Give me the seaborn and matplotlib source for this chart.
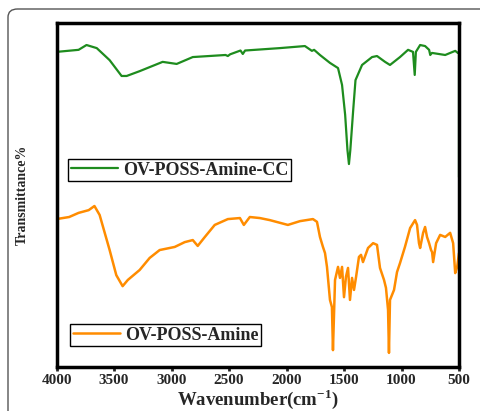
import numpy as np
import pandas as pd
import seaborn as sns
import matplotlib.pyplot as plt
from matplotlib.patches import FancyBboxPatch

sns.set_style("white")
plt.rcParams["font.family"] = ["Liberation Serif", "DejaVu Serif"]
plt.rcParams["font.weight"] = "bold"
plt.rcParams["mathtext.fontset"] = "custom"
plt.rcParams["mathtext.rm"] = "Liberation Serif:bold"
plt.rcParams["mathtext.bf"] = "Liberation Serif:bold"

# FTIR spectra (wavenumber in cm-1, transmittance in arbitrary %)
cc_wn = [4000, 4000, 3808, 3739, 3650, 3538, 3434, 3390, 3277, 3077, 2955, 2815,
         2530, 2510, 2490, 2400, 2380, 2360, 2058, 1840, 1779, 1760, 1709, 1622,
         1552, 1517, 1490, 1470, 1457, 1445, 1420, 1400, 1343, 1256, 1213, 1143,
         1100, 1013, 943, 900, 885, 875, 838, 795, 760, 750, 735, 620, 533, 510,
         500, 500]
cc_t = [55.2, 91.6, 92.2, 93.6, 92.7, 89.2, 84.6, 84.6, 86.0, 88.7, 88.1, 90.1,
        90.7, 90.4, 90.9, 92.0, 91.0, 92.0, 92.7, 93.3, 91.9, 92.2, 90.7, 88.4,
        86.9, 82.0, 73.3, 63.1, 59.0, 63.1, 74.7, 83.4, 87.8, 90.1, 90.4, 88.7,
        87.8, 90.1, 92.2, 91.6, 84.9, 91.6, 93.6, 93.3, 92.2, 90.7, 91.3, 90.7,
        91.9, 91.3, 91.3, 55.2]

am_wn = [4000, 4000, 3890, 3808, 3720, 3670, 3625, 3538, 3480, 3425, 3380, 3277,
         3190, 3103, 2972, 2885, 2815, 2772, 2710, 2624, 2510, 2405, 2371, 2319,
         2232, 2145, 1988, 1883, 1770, 1735, 1709, 1683, 1665, 1648, 1622, 1605,
         1596, 1578, 1552, 1535, 1517, 1500, 1483, 1465, 1448, 1430, 1413, 1395,
         1370, 1352, 1335, 1291, 1247, 1213, 1187, 1152, 1135, 1117, 1109, 1100,
         1065, 1039, 1013, 970, 925, 882, 865, 848, 838, 812, 795, 778, 760, 743,
         734, 725, 699, 664, 620, 577, 551, 533, 516, 500]
am_t = [0.0, 43.0, 43.6, 44.8, 45.6, 46.8, 44.2, 34.0, 26.7, 23.5, 25.3, 28.2,
        31.7, 34.0, 34.9, 36.3, 36.9, 35.2, 37.8, 41.3, 43.0, 43.3, 41.3, 43.6,
        43.3, 42.7, 41.3, 42.4, 43.0, 42.2, 37.8, 34.9, 33.1, 29.1, 19.5, 17.4,
        4.9, 25.3, 29.1, 25.9, 29.1, 20.3, 26.2, 28.8, 19.5, 25.9, 22.4, 26.2,
        32.0, 32.6, 30.5, 34.6, 36.0, 35.5, 28.8, 25.3, 23.0, 16.6, 4.1, 19.5,
        22.4, 27.6, 30.2, 34.9, 40.4, 42.7, 41.3, 36.0, 34.6, 39.0, 40.7, 37.8,
        36.0, 34.0, 33.4, 30.5, 36.0, 38.4, 37.8, 39.0, 36.0, 27.3, 29.1, 33.1]

labels = ["OV-POSS-Amine-CC", "OV-POSS-Amine"]
colors = ["#1e8c1e", "#ff8c00"]

df_cc = pd.DataFrame({"wn": cc_wn, "T": cc_t})
df_am = pd.DataFrame({"wn": am_wn, "T": am_t})

fig = plt.figure(figsize=(4.8, 4.11), dpi=100)
ax = fig.add_axes([56.5 / 480, 1 - 367 / 411, 402.5 / 480, 344 / 411])

# outer rounded frame of the panel
fig.patches.append(FancyBboxPatch((8 / 480, -0.1), 1.2, 1 - 9 / 411 + 0.1,
                                  boxstyle="round,pad=0,rounding_size=0.02",
                                  transform=fig.transFigure, fill=False,
                                  edgecolor="#555555", linewidth=1.0))

sns.lineplot(data=df_cc, x="wn", y="T", sort=False, estimator=None,
             color=colors[0], linewidth=1.6, ax=ax, legend=False)
sns.lineplot(data=df_am, x="wn", y="T", sort=False, estimator=None,
             color=colors[1], linewidth=1.8, ax=ax, legend=False)

ax.set_xlim(4000, 500)
ax.set_ylim(0, 100)
ax.set_xticks([4000, 3500, 3000, 2500, 2000, 1500, 1000, 500])
ax.set_yticks([])
ax.tick_params(axis="x", direction="out", length=3, width=2, pad=2,
               labelsize=11, bottom=True)
for lab in ax.get_xticklabels():
    lab.set_fontweight("bold")
for sp in ax.spines.values():
    sp.set_linewidth(2.5)
    sp.set_color("black")

ax.set_xlabel(r"Wavenumber(cm$^{\mathbf{-1}}$)", fontsize=13.5,
              fontweight="bold", va="center")
ax.xaxis.set_label_coords(0.5, -0.093)
ax.set_ylabel("Transmittance%", fontsize=10, fontweight="bold", labelpad=20)

leg_kw = dict(frameon=True, fancybox=False, edgecolor="black", framealpha=1,
              handlelength=2.6, handletextpad=0.3, borderpad=0.15,
              borderaxespad=0, prop={"weight": "bold", "size": 13})
leg1 = ax.legend([ax.lines[0]], [labels[0]], loc="upper left",
                 bbox_to_anchor=(0.029, 0.605), **leg_kw)
leg1.get_frame().set_linewidth(1.0)
ax.add_artist(leg1)
leg2 = ax.legend([ax.lines[1]], [labels[1]], loc="upper left",
                 bbox_to_anchor=(0.034, 0.125), **leg_kw)
leg2.get_frame().set_linewidth(1.0)

fig.savefig("out.png", dpi=100)
